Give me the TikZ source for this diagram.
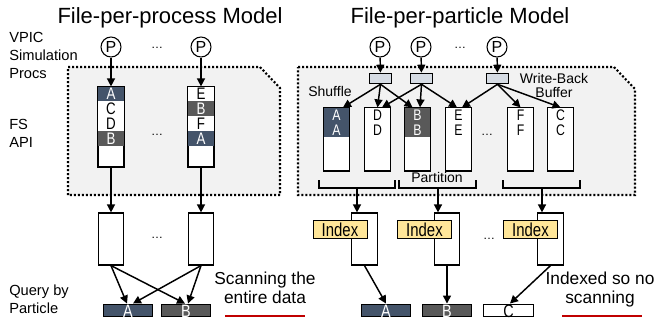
\documentclass[tikz,border=0pt]{standalone}
\usepackage{fontspec}
\setmainfont{Liberation Sans}
\newfontfamily\narrowfont[FakeStretch=0.8]{Liberation Sans}
\usetikzlibrary{arrows.meta,calc}
\newcommand\fsz[2]{\fontsize{#1pt}{#2pt}\selectfont}
\definecolor{dblue}{HTML}{44546A}
\definecolor{dgray}{HTML}{595959}
\definecolor{bufblue}{HTML}{D6DCE4}
\definecolor{idxyel}{HTML}{FFE699}
\definecolor{regbg}{HTML}{F2F2F2}
\definecolor{scanred}{HTML}{C00000}
\tikzset{
  flow/.style={-{Triangle[length=6pt,width=6pt]},line width=1.1pt},
  region/.style={fill=regbg,line width=1.6pt,dash pattern=on 1.5pt off 1.5pt},
  proc/.style={circle,draw,line width=0.8pt,minimum size=15pt,inner sep=0pt,font=\fsz{12}{12}},
  file/.style={draw,fill=white,line width=0.9pt,inner sep=0pt,minimum width=19pt},
  cell/.style={inner sep=0pt,font=\narrowfont\fsz{12.5}{12.5}},
  buf/.style={draw,fill=bufblue,line width=0.7pt,inner sep=0pt,minimum width=17pt,minimum height=8pt},
  idx/.style={draw,fill=idxyel,line width=0.7pt,inner sep=0pt,minimum width=40.5pt,minimum height=14pt,font=\narrowfont\fsz{14}{14}},
  bar/.style={draw,line width=0.7pt,inner sep=0pt,minimum width=37pt,minimum height=9pt},
  barlbl/.style={anchor=base,inner sep=0pt,font=\narrowfont\fsz{13.5}{13.5}},
  side/.style={anchor=west,align=left,inner sep=0pt,font=\fsz{11}{13.5}},
  title/.style={font=\fsz{16.5}{18}},
  dots/.style={font=\fsz{9}{9}},
}
\begin{document}
\begin{tikzpicture}[x=0.75pt,y=-0.75pt]
  \useasboundingbox (0,0) rectangle (657,325);
  % shaded file system areas
  \draw[region] (68,67) -- (260,67) -- (280,88) -- (280,195) -- (68,195) -- cycle;
  \draw[region] (298,67) -- (614,67) -- (635,89) -- (635,195) -- (298,195) -- cycle;

  \node[title] (tl) at (170,18) {File-per-process Model};
  \node[title] (tr) at (460,18) {File-per-particle Model};
  \node[side] (s1) at (9,55) {VPIC\\Simulation\\Procs};
  \node[side] (s2) at (9,133) {FS\\API};
  \node[side] (s3) at (9,299) {Query by\\Particle};

  % file-per-process
  \node[proc] (p1) at (111,47) {P};
  \node[proc] (p2) at (201,47) {P};
  \node[file,minimum height=60pt] (c1) at (111,127) {};
  \node[file,minimum height=60pt] (c2) at (201,127) {};
  \foreach \col/\i/\t/\f/\c in {c1/0/A/dblue/white,c1/1/C/white/black,c1/2/D/white/black,c1/3/B/dgray/white,
      c2/0/E/white/black,c2/1/B/dgray/white,c2/2/F/white/black,c2/3/A/dblue/white} {
    \fill[\f] ($(\col.north west)+(0,15*\i)$) rectangle ($(\col.north east)+(0,15+15*\i)$);
    \node[cell,text=\c] (\col-\i) at ($(\col.north)+(0,7.5+15*\i)$) {\t};
  }
  \node[file,minimum height=39pt] (d1) at (111,239) {};
  \node[file,minimum height=39pt] (d2) at (201,239) {};
  \node[bar,fill=dblue] (qa) at (128,310) {};
  \node[bar,fill=dgray] (qb) at (186,310) {};
  \node[barlbl,text=white] (qa-l) at ($(qa.south)+(0,1)$) {A};
  \node[barlbl,text=white] (qb-l) at ($(qb.south)+(0,1)$) {B};
  \node[dots] (e1) at (157,48) {\ldots};
  \node[dots] (e2) at (157,135) {\ldots};
  \node[dots] (e3) at (157,238) {\ldots};
  \draw[flow] (p1) -- (c1);
  \draw[flow] (p2) -- (c2);
  \draw[flow] (c1) -- (d1);
  \draw[flow] (c2) -- (d2);
  \draw[flow] (d1.south) -- ($(qa.north)+(-1,0)$);
  \draw[flow] (d1.south) -- ($(qb.north)+(-1,0)$);
  \draw[flow] (d2.south) -- ($(qa.north)+(5,0)$);
  \draw[flow] (d2.south) -- ($(qb.north)+(2,0)$);
  \node[font=\fsz{13}{14.25},align=center] (scan) at (265,288) {Scanning the\\entire data};
  \draw[scanred,line width=1.5pt] (225,316) -- (305,316);

  % file-per-particle
  \node[proc] (pp1) at (380,47) {P};
  \node[proc] (pp2) at (421,47) {P};
  \node[proc] (pp3) at (497,47) {P};
  \node[dots] (e4) at (460,48) {\ldots};
  \node[buf] (wb1) at (380.5,78.5) {};
  \node[buf] (wb2) at (421.5,78.5) {};
  \node[buf] (wb3) at (497.5,78.5) {};
  \foreach \n/\x in {r1/336.5,r2/377.5,r3/417.5,r4/458.5,r5/520.5,r6/560.5}
    \node[file,minimum height=47.25pt] (\n) at (\x,139.5) {};
  \foreach \col/\t/\f/\c in {r1/A/dblue/white,r2/D/white/black,r3/B/dgray/white,
      r4/E/white/black,r5/F/white/black,r6/C/white/black} {
    \fill[\f] (\col.north west) rectangle ($(\col.north east)+(0,30)$);
    \foreach \i in {0,1}
      \node[cell,text=\c,font=\narrowfont\fsz{11.5}{11.5}] (\col-\i) at ($(\col.north)+(0,8+14.5*\i)$) {\t};
  }
  \foreach \col in {c1,c2,r1,r2,r3,r4,r5,r6}
    \draw[line width=0.9pt] (\col.north west) rectangle (\col.south east);
  \node[dots] (e5) at (487,135) {\ldots};
  \node[font=\fsz{10.5}{10.5}] (shuf) at (330,91) {Shuffle};
  \node[font=\fsz{10.5}{10.5},align=center] (wbl) at (554,85) {Write-Back\\Buffer};
  \node[font=\fsz{10.5}{10.5}] (part) at (437,177) {Partition};
  \draw[flow] (pp1) -- (wb1);
  \draw[flow] (pp2) -- (wb2);
  \draw[flow] (pp3) -- (wb3);
  \draw[flow] (wb1.south) -- ($(r1.north)+(6.5,0)$);
  \draw[flow] (wb1.south) -- ($(r2.north)+(0,0)$);
  \draw[flow] (wb1.south) -- ($(r3.north)+(-5,0)$);
  \draw[flow] (wb2.south) -- ($(r2.north)+(4.5,0)$);
  \draw[flow] (wb2.south) -- ($(r3.north)+(2.5,0)$);
  \draw[flow] (wb2.south) -- ($(r4.north)+(-1.5,0)$);
  \draw[flow] (wb3.south) -- ($(r4.north)+(3.5,0)$);
  \draw[flow] (wb3.south) -- ($(r5.north)+(0,0)$);
  \draw[flow] (wb3.south) -- ($(r6.north)+(0,0)$);
  % partition brackets
  \draw[line width=0.9pt] (319,180) |- (395,188) -- (395,180);
  \draw[line width=0.9pt] (399,180) |- (476,188) -- (476,180);
  \draw[line width=0.9pt] (503,180) |- (580,188) -- (580,180);
  \coordinate (m1) at (357,188);
  \coordinate (m2) at (438,188);
  \coordinate (m3) at (542,188);
  \foreach \n/\x in {f1/364.5,f2/447,f3/550.5}
    \node[file,minimum height=39pt] (\n) at (\x,239) {};
  \node[idx] (ix1) at (340,229.5) {Index};
  \node[idx] (ix2) at (424.5,229.5) {Index};
  \node[idx] (ix3) at (530.5,229.5) {Index};
  \node[dots] (e6) at (489,239) {\ldots};
  \draw[flow] (m1) -- (m1 |- f1.north);
  \draw[flow] (m2) -- (m2 |- f2.north);
  \draw[flow] (m3) -- (m3 |- f3.north);
  \node[bar,fill=dblue] (ra) at (386,310) {};
  \node[bar,fill=dgray] (rb) at (447,310) {};
  \node[bar,fill=white] (rc) at (508.5,310) {};
  \node[barlbl,text=white] (ra-l) at ($(ra.south)+(0,1)$) {A};
  \node[barlbl,text=white] (rb-l) at ($(rb.south)+(0,1)$) {B};
  \node[barlbl] (rc-l) at ($(rc.south)+(0,1)$) {C};
  \draw[flow] (f1.south) -- (ra.north);
  \draw[flow] (f2.south) -- (rb.north);
  \draw[flow] (f3.south) -- ($(rc.north)+(1.5,0)$);
  \node[font=\fsz{13}{14.25},align=center] (idxd) at (600,290) {Indexed so no\\scanning};
  \draw[scanred,line width=1.5pt] (562,316) -- (642,316);
\end{tikzpicture}
\end{document}
